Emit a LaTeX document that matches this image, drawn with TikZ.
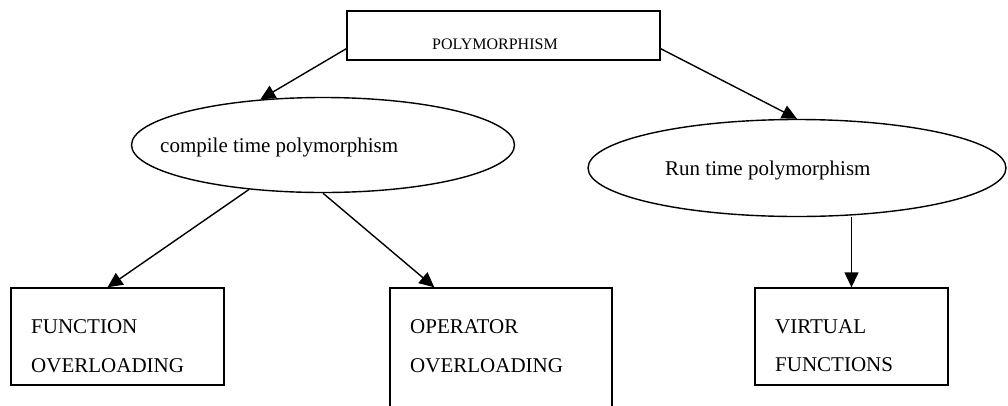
\documentclass[tikz,border=0pt]{standalone}
\usepackage{fontspec}
\setmainfont{Liberation Serif}
\usetikzlibrary{arrows.meta,shapes.geometric,calc}
\begin{document}
\begin{tikzpicture}[x=1pt,y=-1pt,
  box/.style={draw,line width=1.4pt,rectangle,inner sep=0pt},
  oval/.style={draw,line width=1.4pt,ellipse,inner sep=0pt},
  txt/.style={inner sep=0pt,anchor=base west,font=\fontsize{21}{25}\selectfont},
  smalltxt/.style={inner sep=0pt,anchor=base west,font=\fontsize{16}{19}\selectfont},
  conn/.style={line width=1.4pt,-{Triangle[length=15pt,width=14pt]}}]
\clip (0,0) rectangle (1008,405);
\fill[white] (0,0) rectangle (1008,405);
% shapes
\node[box,minimum width=313pt,minimum height=49pt] (poly) at (503.5,35.5) {};
\node[oval,minimum width=383pt,minimum height=95pt] (compile) at (323,145) {};
\node[oval,minimum width=418pt,minimum height=97pt] (run) at (797,168) {};
\node[box,minimum width=213pt,minimum height=97pt] (func) at (117.5,336.5) {};
\node[box,minimum width=222pt,minimum height=160pt] (oper) at (501,368) {};
\node[box,minimum width=193pt,minimum height=97pt] (virt) at (851.5,336.5) {};
% texts
\node[smalltxt] (tpoly) at (432,49) {POLYMORPHISM};
\node[txt] (tcomp) at (160,152) {compile time polymorphism};
\node[txt] (trun) at (665,175) {Run time polymorphism};
\node[txt] (tf1) at (31,333) {FUNCTION};
\node[txt] (tf2) at (31,372) {OVERLOADING};
\node[txt] (to1) at (410,333) {OPERATOR};
\node[txt] (to2) at (410,372) {OVERLOADING};
\node[txt] (tv1) at (775,333) {VIRTUAL};
\node[txt] (tv2) at (775,371) {FUNCTIONS};
% connectors
\coordinate (pl) at ($(poly.south west)+(0,-12)$);
\coordinate (pr) at ($(poly.south east)+(0,-12)$);
\draw[conn] (pl) -- (compile.144);
\draw[conn] (pr) -- (run.north);
\draw[conn] (compile.211) -- ($(func.north)+(-10,0)$);
\draw[conn] (compile.south) -- ($(oper.north west)+(45,0)$);
\draw[conn] (run.south -| virt.north) -- (virt.north);
\end{tikzpicture}
\end{document}
